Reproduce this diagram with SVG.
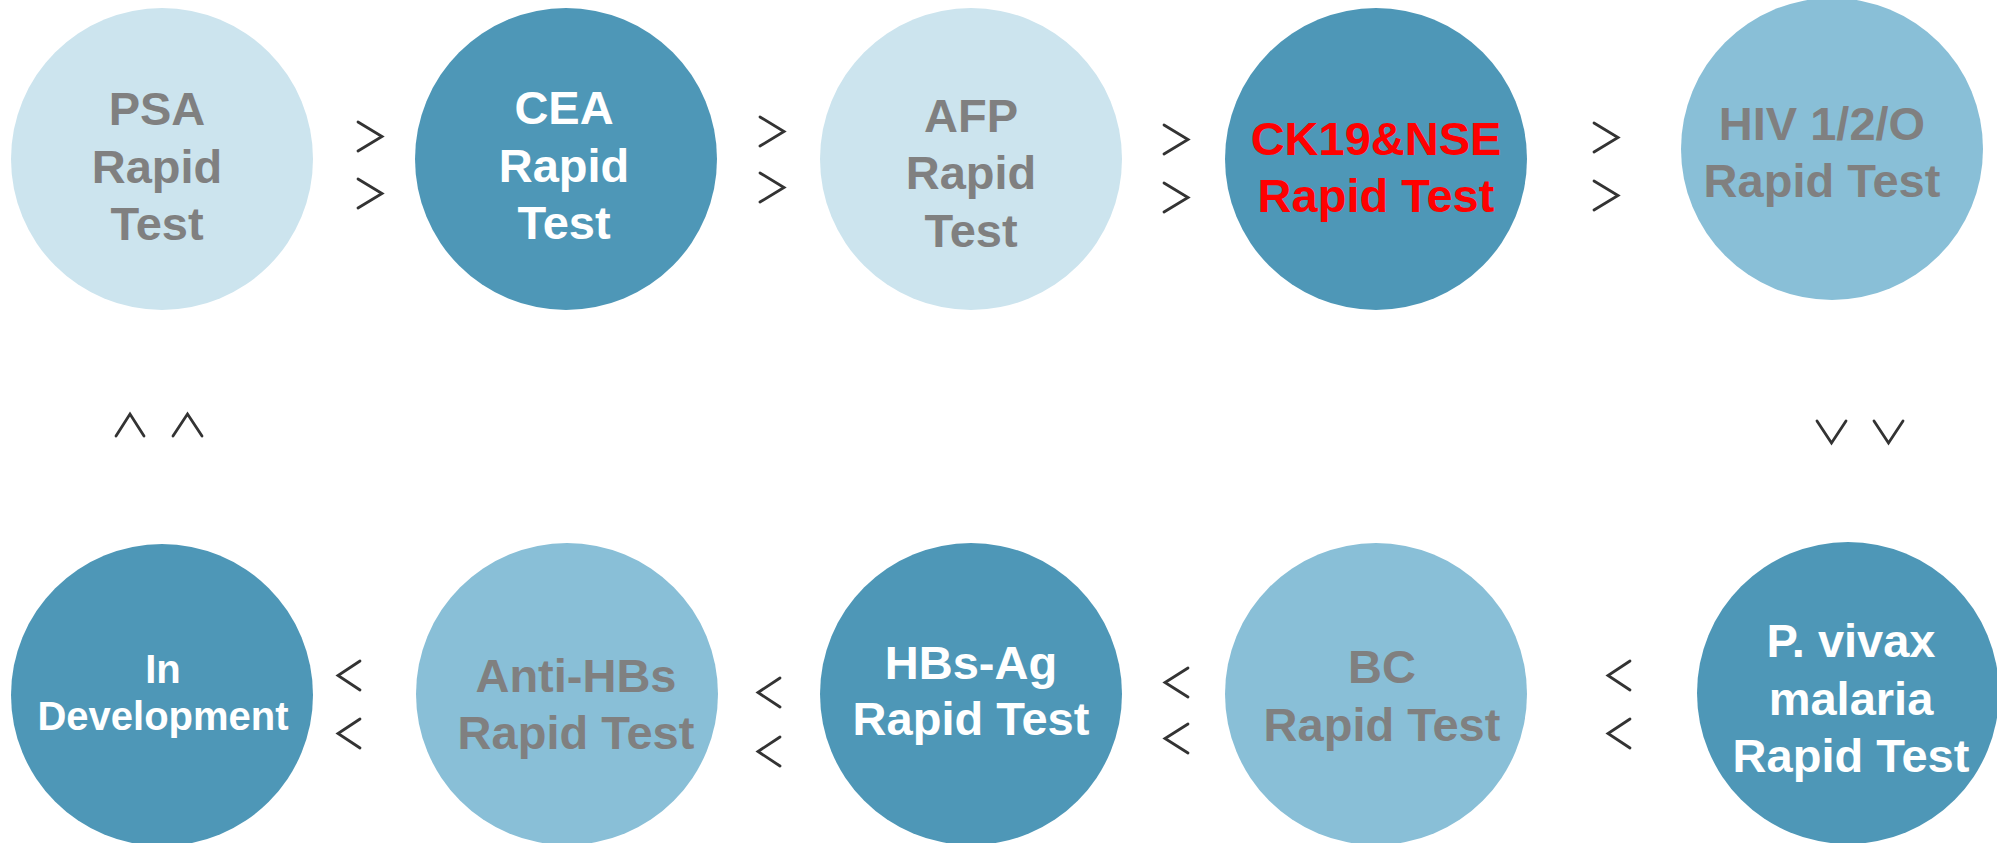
<svg xmlns="http://www.w3.org/2000/svg" width="1997" height="843" viewBox="0 0 1997 843">
<style>
.dark{fill:#4E97B7}
.mid{fill:#89BFD7}
.light{fill:#CCE4EE}
text{font-family:"Liberation Sans",Arial,sans-serif;font-weight:bold;font-size:47px;text-anchor:middle}
.g{fill:#808080}
.w{fill:#FFFFFF}
.r{fill:#FF0000}
.chev{fill:none;stroke:#333333;stroke-width:2.8;stroke-linecap:round;stroke-linejoin:miter}
</style>
<rect width="1997" height="843" fill="#FFFFFF"/>
<g id="node-psa"><circle class="light" cx="162" cy="159" r="151"/>
<text class="g" x="157" y="125">PSA</text><text class="g" x="157" y="182.5">Rapid</text><text class="g" x="157" y="240">Test</text></g>
<g id="node-cea"><circle class="dark" cx="566" cy="159" r="151"/>
<text class="w" x="564" y="124">CEA</text><text class="w" x="564" y="182">Rapid</text><text class="w" x="564" y="239">Test</text></g>
<g id="node-afp"><circle class="light" cx="971" cy="159" r="151"/>
<text class="g" x="971" y="132">AFP</text><text class="g" x="971" y="189">Rapid</text><text class="g" x="971" y="247">Test</text></g>
<g id="node-ck19"><circle class="dark" cx="1376" cy="159" r="151"/>
<text class="r" x="1376" y="155">CK19&amp;NSE</text><text class="r" x="1376" y="212">Rapid Test</text></g>
<g id="node-hiv"><circle class="mid" cx="1832" cy="149" r="151"/>
<text class="g" x="1822" y="140">HIV 1/2/O</text><text class="g" x="1822" y="197">Rapid Test</text></g>
<g id="node-pvivax"><circle class="dark" cx="1848" cy="693" r="151"/>
<text class="w" x="1851" y="657">P. vivax</text><text class="w" x="1851" y="715">malaria</text><text class="w" x="1851" y="772">Rapid Test</text></g>
<g id="node-bc"><circle class="mid" cx="1376" cy="694" r="151"/>
<text class="g" x="1382" y="683">BC</text><text class="g" x="1382" y="741">Rapid Test</text></g>
<g id="node-hbsag"><circle class="dark" cx="971" cy="694" r="151"/>
<text class="w" x="971" y="679">HBs-Ag</text><text class="w" x="971" y="735">Rapid Test</text></g>
<g id="node-antihbs"><circle class="mid" cx="567" cy="694" r="151"/>
<text class="g" x="576" y="692">Anti-HBs</text><text class="g" x="576" y="749">Rapid Test</text></g>
<g id="node-indev"><circle class="dark" cx="162" cy="695" r="151"/>
<text class="w" x="163" y="683" style="font-size:40px">In</text><text class="w" x="163" y="730" style="font-size:40px">Development</text></g>
<g id="connectors">
<polyline class="chev" points="358,122 382,136.5 358,151"/>
<polyline class="chev" points="358,179 382,193.5 358,208"/>
<polyline class="chev" points="760,117 784,131.5 760,146"/>
<polyline class="chev" points="760,173 784,187.5 760,202"/>
<polyline class="chev" points="1164,125 1188,139.5 1164,154"/>
<polyline class="chev" points="1164,183 1188,197.5 1164,212"/>
<polyline class="chev" points="1594,123 1618,137.5 1594,152"/>
<polyline class="chev" points="1594,181 1618,195.5 1594,210"/>
<polyline class="chev" points="1817,421 1831.5,443 1846,421"/>
<polyline class="chev" points="1874,421 1888.5,443 1903,421"/>
<polyline class="chev" points="1630,661 1608,675.5 1630,690"/>
<polyline class="chev" points="1630,719 1608,733.5 1630,748"/>
<polyline class="chev" points="1188,668 1165,682.5 1188,697"/>
<polyline class="chev" points="1188,724 1165,738.5 1188,753"/>
<polyline class="chev" points="780,678 758,692.5 780,707"/>
<polyline class="chev" points="780,737 758,751.5 780,766"/>
<polyline class="chev" points="360,661 338,675.5 360,690"/>
<polyline class="chev" points="360,719 338,733.5 360,748"/>
<polyline class="chev" points="116,436 130,414 144,436"/>
<polyline class="chev" points="173,436 187.5,414 202,436"/>
</g>
</svg>
